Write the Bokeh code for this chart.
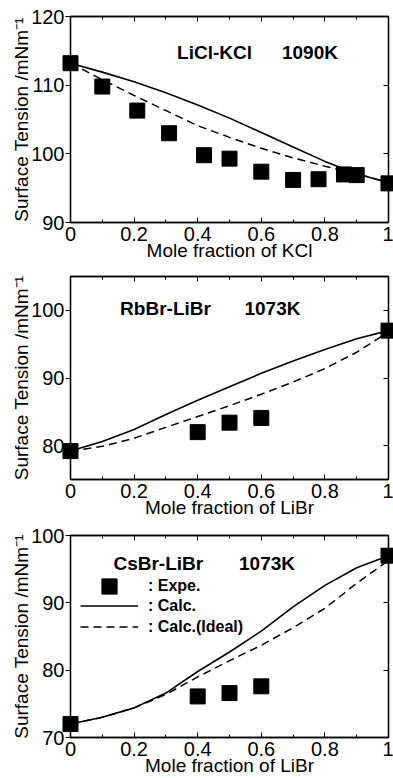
from bokeh.plotting import figure
from bokeh.layouts import column
from bokeh.models import (Range1d, LinearAxis, FixedTicker, Label, Legend, LegendItem,
                          NumeralTickFormatter, CustomLabelingPolicy)
from bokeh.core.properties import value
from bokeh.embed import file_html
from bokeh.resources import INLINE

FONT = "Liberation Sans"

# ---------------- data ----------------
calc_x = [0.0, 0.1, 0.2, 0.3, 0.4, 0.5, 0.6, 0.7, 0.8, 0.9, 1.0]

# Panel 1: LiCl-KCl 1090K
p1_exp_x = [0.0, 0.10, 0.21, 0.31, 0.42, 0.50, 0.60, 0.70, 0.78, 0.86, 0.90, 1.0]
p1_exp_y = [113.2, 109.8, 106.3, 103.0, 99.8, 99.3, 97.4, 96.2, 96.3, 97.0, 96.9, 95.7]
p1_calc = [113.2, 111.9, 110.5, 108.9, 107.1, 105.2, 103.1, 101.0, 98.9, 97.1, 95.8]
p1_ideal = [113.2, 110.8, 108.5, 106.3, 104.1, 102.4, 100.8, 99.4, 98.2, 97.1, 95.8]

# Panel 2: RbBr-LiBr 1073K
p2_exp_x = [0.0, 0.4, 0.5, 0.6, 1.0]
p2_exp_y = [79.2, 82.0, 83.4, 84.1, 97.0]
p2_calc = [79.2, 80.6, 82.4, 84.6, 86.7, 88.7, 90.7, 92.5, 94.2, 95.8, 97.0]
p2_ideal = [79.2, 79.9, 81.1, 82.7, 84.3, 85.9, 87.6, 89.4, 91.4, 93.8, 96.8]

# Panel 3: CsBr-LiBr 1073K
p3_exp_x = [0.0, 0.4, 0.5, 0.6, 1.0]
p3_exp_y = [72.0, 76.1, 76.6, 77.6, 97.0]
p3_calc = [72.0, 73.0, 74.4, 76.6, 79.8, 82.7, 85.8, 89.4, 92.6, 95.2, 97.0]
p3_ideal = [72.0, 73.0, 74.4, 76.4, 79.0, 81.4, 83.7, 86.3, 89.2, 92.9, 96.3]

x_major = [0, 0.2, 0.4, 0.6, 0.8, 1.0]
x_minor = [0.1, 0.3, 0.5, 0.7, 0.9]

panels = [
    dict(h=263, top=16, left=68, yr=(90, 120), yt=[90, 100, 110, 120],
         xlabel="Mole fraction of KCl", ex=p1_exp_x, ey=p1_exp_y, calc=p1_calc, ideal=p1_ideal,
         t1="LiCl-KCl", t1x=0.335, t2="1090K", t2x=0.665, ty=114.8, legend=False),
    dict(h=257, top=13, left=70, yr=(75, 105), yt=[80, 90, 100],
         xlabel="Mole fraction of LiBr", ex=p2_exp_x, ey=p2_exp_y, calc=p2_calc, ideal=p2_ideal,
         t1="RbBr-LiBr", t1x=0.156, t2="1073K", t2x=0.547, ty=100.2, legend=False),
    dict(h=258, top=15, left=70, yr=(70, 100), yt=[70, 80, 90, 100],
         xlabel="Mole fraction of LiBr", ex=p3_exp_x, ey=p3_exp_y, calc=p3_calc, ideal=p3_ideal,
         t1="CsBr-LiBr", t1x=0.135, t2="1073K", t2x=0.53, ty=95.9, legend=True),
]

HIDE_JS = """
try { return indices.constructor.all_unset(indices.size) } catch (e) {}
for (const i of Array.from(indices)) { indices.unset(i) }
return indices
"""

figs = []
for cfg in panels:
    p = figure(width=393, height=cfg["h"], output_backend="svg", toolbar_location=None,
               x_range=Range1d(0, 1), y_range=Range1d(*cfg["yr"]),
               min_border_left=cfg["left"], min_border_right=3, min_border_top=cfg["top"],
               min_border_bottom=10, x_axis_location=None, y_axis_location=None)
    p.grid.visible = False
    p.outline_line_color = "black"
    p.outline_line_width = 1.3
    p.background_fill_color = "white"
    p.border_fill_color = "white"

    xb = LinearAxis(ticker=FixedTicker(ticks=x_major, minor_ticks=x_minor),
                    formatter=NumeralTickFormatter(format="0.[0]"),
                    axis_label=cfg["xlabel"])
    yl = LinearAxis(ticker=FixedTicker(ticks=cfg["yt"], minor_ticks=[]),
                    axis_label="Surface Tension /mNm\u207b\u00b9")
    xt = LinearAxis(ticker=FixedTicker(ticks=x_major, minor_ticks=x_minor),
                    major_label_policy=CustomLabelingPolicy(code=HIDE_JS), major_label_standoff=0)
    yr_ax = LinearAxis(ticker=FixedTicker(ticks=cfg["yt"], minor_ticks=[]),
                       major_label_policy=CustomLabelingPolicy(code=HIDE_JS), major_label_standoff=0)
    for ax in (xb, yl, xt, yr_ax):
        ax.axis_line_color = "black"
        ax.axis_line_width = 1.3
        ax.major_tick_line_color = "black"
        ax.minor_tick_line_color = "black"
        ax.major_tick_line_width = 1
        ax.minor_tick_line_width = 1
        ax.major_label_text_font = FONT
        ax.major_label_text_color = "black"
        ax.axis_label_text_font = FONT
        ax.axis_label_text_font_style = "normal"
        ax.axis_label_text_color = "black"
    for ax in (xt, yr_ax):
        ax.major_label_text_font_size = "1px"
    for ax in (xb, xt):
        ax.major_tick_in = 5
        ax.major_tick_out = 0
        ax.minor_tick_in = 3
        ax.minor_tick_out = 0
    yl.major_tick_in = 0
    yl.major_tick_out = 5
    yr_ax.major_tick_in = 5
    yr_ax.major_tick_out = 0
    xb.major_label_text_font_size = "20px"
    xb.major_label_standoff = 4
    xb.axis_label_text_font_size = "19px"
    xb.axis_label_standoff = -4
    yl.major_label_text_font_size = "20px"
    yl.major_label_standoff = 1
    yl.axis_label_text_font_size = "19px"
    yl.axis_label_standoff = -4

    p.add_layout(xb, "below")
    p.add_layout(yl, "left")
    p.add_layout(xt, "above")
    p.add_layout(yr_ax, "right")

    solid = p.line(calc_x, cfg["calc"], line_color="black", line_width=1.6)
    dashed = p.line(calc_x, cfg["ideal"], line_color="black", line_width=1.5, line_dash="8 5")
    sq = p.scatter(cfg["ex"], cfg["ey"], marker="square", size=15, fill_color="black",
                   line_color="black", level="overlay")

    for txt, tx in ((cfg["t1"], cfg["t1x"]), (cfg["t2"], cfg["t2x"])):
        p.add_layout(Label(x=tx, y=cfg["ty"], text=txt, text_font=FONT, text_font_size="19px",
                           text_font_style="bold", text_color="black", text_baseline="middle"))

    if cfg["legend"]:
        common = dict(padding=0, margin=0, spacing=0, border_line_color=None,
                      background_fill_alpha=0, label_standoff=10, glyph_width=58,
                      label_text_font=FONT, label_text_font_size="16px",
                      label_text_font_style="bold", label_text_color="black")
        leg1 = Legend(items=[LegendItem(label=value(": Expe."), renderers=[sq])],
                      location=(10, 132), glyph_height=38, **common)
        leg2 = Legend(items=[LegendItem(label=value(": Calc."), renderers=[solid]),
                             LegendItem(label=value(": Calc.(Ideal)"), renderers=[dashed])],
                      location=(10, 100), glyph_height=21, **common)
        p.add_layout(leg1, "center")
        p.add_layout(leg2, "center")
    figs.append(p)

layout = column(*figs, spacing=0)
open("out.html", "w").write(file_html(layout, INLINE))
